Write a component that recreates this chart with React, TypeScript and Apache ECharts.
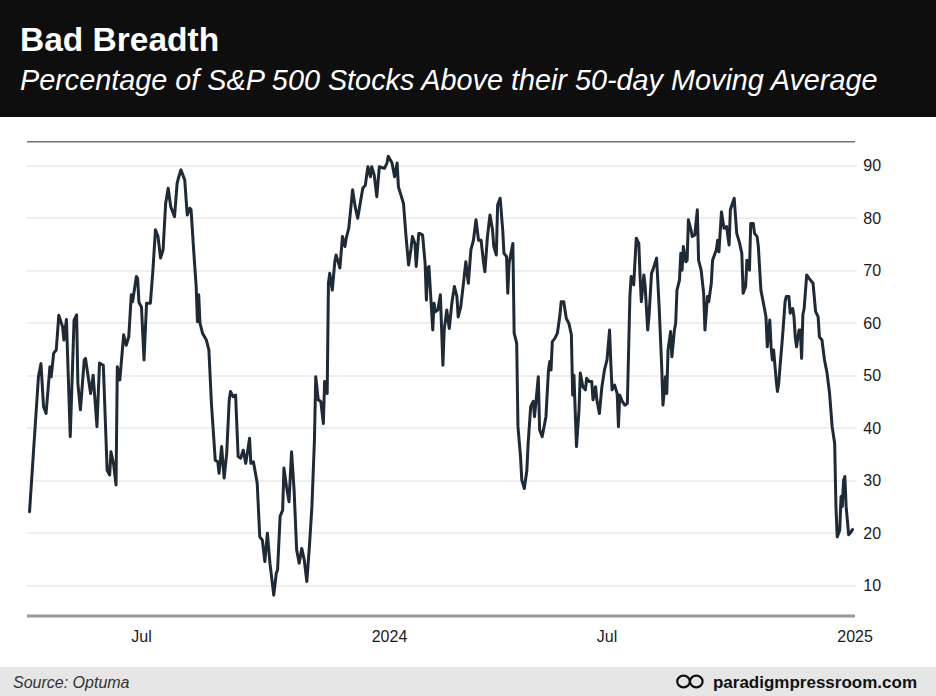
import React, { useEffect, useRef } from 'react';
import * as echarts from 'echarts';

// ---- Data ----
const dates2023 = [
  '03-24','03-31','04-02','04-04','04-06','04-09','04-10','04-12','04-14','04-16','04-19','04-20','04-22','04-25','04-28','04-30',
  '05-01','05-03','05-06','05-07','05-11','05-13','05-16','05-18','05-21','05-24','05-26','05-27','05-29','05-31',
  '06-01','06-03','06-06','06-08','06-10','06-12','06-13','06-16','06-17','06-18','06-20','06-22','06-24','06-27','06-29',
  '07-01','07-03','07-05','07-07','07-09','07-11','07-13','07-16','07-18','07-19','07-21','07-24','07-26','07-28','07-29','07-31',
  '08-02','08-03','08-04','08-05','08-07','08-10','08-12','08-14','08-17','08-19','08-20','08-22','08-24','08-26','08-28','08-29','08-31',
  '09-02','09-04','09-06','09-08','09-10','09-13','09-14','09-16','09-19','09-21','09-23','09-25','09-27','09-29',
  '10-02','10-04','10-05','10-07','10-09','10-10','10-12','10-14','10-16','10-18','10-20','10-22','10-24','10-26','10-28','10-30',
  '11-01','11-03','11-04','11-06','11-08','11-10','11-11','11-13','11-14','11-15','11-17','11-19','11-20','11-23','11-25','11-27','11-28','11-30',
  '12-03','12-05','12-07','12-11','12-13','12-15','12-17','12-18','12-20','12-22','12-24','12-28','12-30','12-31'
];
const values2023 = [
  24.1,49.8,52.3,44.1,42.8,51.7,49.8,54.3,54.9,61.5,59.3,56.8,60.7,38.4,60.6,61.6,
  48.5,43.5,53,53.3,46.6,50.1,40.3,52.4,52,32,31.1,35.5,33.3,29.2,
  51.7,49.2,57.8,55.8,57.4,65.4,64.1,68.9,68.5,64,63.1,53,63.8,63.8,70.1,
  77.8,76.5,72.4,74,82.8,85.7,82.2,80.3,86.6,87.6,89.2,87.3,80.6,81.9,81.6,74,
  67,60.3,65.4,60,58.1,56.8,54.9,44.7,33.9,33.6,31.4,36.5,30.5,35.2,45.4,47,46,
  46.3,34.6,34.3,35.8,33.3,38.1,33.3,33.6,29.5,19.3,18.7,14.6,20,14.3,
  8.2,12.4,13,23.2,24.4,32.4,28.9,26,35.5,28.2,16.8,14.3,17.1,14.9,10.8,17.4,
  25.1,37.8,49.8,45.4,45.1,40.9,48.9,46.6,67.6,69.5,66.3,71.7,73,70.5,76.5,74.6,76.2,78.1,
  85.4,82.2,80,85.7,86.3,89.8,87.9,89.8,88.2,84.1,89.8,89.5,90.5,91.8
];
const dates2024 = [
  '01-03','01-05','01-07','01-08','01-10','01-12','01-14','01-16','01-18','01-19','01-21','01-22','01-24','01-25','01-27','01-29','01-30','01-31',
  '02-01','02-04','02-05','02-06','02-08','02-10','02-12','02-13','02-15','02-17','02-19','02-21','02-23','02-24','02-26','02-28',
  '03-01','03-03','03-05','03-07','03-09','03-11','03-13','03-15','03-16','03-18','03-20','03-22','03-23','03-25','03-26','03-28','03-30','03-31',
  '04-02','04-03','04-04','04-07','04-08','04-10','04-11','04-13','04-14','04-16','04-18','04-19','04-21','04-23','04-24','04-25','04-27','04-28','04-30',
  '05-02','05-03','05-05','05-06','05-07','05-08','05-10','05-12','05-14','05-15','05-17','05-19','05-21','05-23','05-24','05-25','05-27','05-29','05-30',
  '06-01','06-03','06-04','06-06','06-08','06-09','06-11','06-12','06-14','06-16','06-18','06-20','06-22','06-23','06-24','06-26','06-28','06-29','06-30',
  '07-02','07-04','07-06','07-08','07-09','07-11','07-13','07-15','07-16','07-17','07-19','07-20','07-22','07-23','07-25','07-26','07-29','07-31',
  '08-02','08-03','08-05','08-06','08-07','08-09','08-10','08-12','08-13','08-14','08-16','08-17','08-18','08-19','08-21','08-22','08-23','08-25','08-26','08-28','08-30','08-31',
  '09-02','09-04','09-05','09-07','09-08','09-10','09-11','09-14','09-15','09-16','09-18','09-20','09-22','09-24','09-25','09-27','09-28','09-30',
  '10-02','10-04','10-05','10-07','10-08','10-10','10-11','10-13','10-14','10-16','10-17','10-19','10-21','10-23','10-24','10-26','10-27','10-28','10-29','10-31',
  '11-01','11-02','11-03','11-05','11-07','11-08','11-10','11-11','11-13','11-14','11-15','11-16','11-18','11-19','11-20','11-21','11-22','11-24','11-26','11-28','11-29',
  '12-01','12-03','12-04','12-06','12-08','12-10','12-12','12-14','12-16','12-17','12-18','12-20','12-21','12-22','12-23','12-24','12-25','12-27','12-29','12-30'
];
const values2024 = [
  90.5,87.9,90.5,86,84.4,82.8,76.5,71.1,74.3,76.5,75.2,70.8,77.1,77.1,76.8,71.4,64.4,70.5,
  70.8,58.7,63.8,62.2,62.5,65.4,52,58.7,62.5,59,63.8,67,65.1,61.2,63.1,67.3,
  71.7,67.6,74,75.8,79.7,75.8,75.8,71.4,69.8,76.5,80.6,77.8,74.6,73,82.5,83.8,77.8,73.3,
  72.7,65.7,71.4,75.2,58.1,56.2,40.3,34.6,30.1,28.5,32,37.1,44.1,45.1,42.2,44.7,49.8,39.7,38.4,
  40.9,42.2,51.1,52.7,51.1,56.5,57.1,58.1,61.6,64.1,64.1,60.9,60,57.8,46.3,50.1,36.5,43.5,50.5,
  47.9,47.3,49.5,48.9,48.9,45.4,47.9,45.4,42.8,47.9,51.1,53,58.7,52.4,47.3,48.2,46.6,40.3,46.3,
  45.1,44.4,44.7,65.1,68.9,67.3,76.2,75.2,68.9,64.1,69.2,67,58.7,61.2,69.5,70.1,72.4,63.1,
  51.7,44.4,49.8,46.6,54.9,58.4,53.6,58.7,60,66.3,68.2,73.3,70.1,74.6,71.7,72,79.7,77.8,76.5,76.8,81.6,72,
  70.1,65.7,58.7,65.1,64.1,67.6,72,74,75.8,73.6,81.2,78.1,78.4,74.9,81.6,83.1,83.8,77.1,
  75.5,73.3,65.7,67,72,70.1,79,79,77.1,76.5,74.6,66.3,63.8,61.2,55.5,60.6,55.5,53,54.9,49.2,
  47,48.5,51.7,57.4,64.1,65.1,65.1,61.9,62.8,61.2,57.4,55.5,58.7,58.7,53.3,61.6,62.8,69.2,68.5,67.9,67.6,
  62.2,61.2,57.4,56.8,53,50.5,46.6,40.3,37.1,25.1,19.3,20.6,27,25.1,30.1,30.8,25.1,19.7,20.3,20.7
];
const xTickDates = ['2023-07-01', '2024-01-01', '2024-07-01', '2025-01-01'];
const xTickLabels = ['Jul', '2024', 'Jul', '2025'];
const axisStart = '2023-03-22';
const axisEnd = '2025-01-02';
const yMin = 10;
const yMax = 90;
const yStep = 10;

const FONT = '"Liberation Sans", Arial, Helvetica, sans-serif';

const toTs = (s: string) => {
  const [y, m, d] = s.split('-').map(Number);
  return new Date(y, m - 1, d).getTime();
};

export default function App() {
  const ref = useRef<HTMLDivElement>(null);

  useEffect(() => {
    if (!ref.current) return;
    const chart = echarts.init(ref.current, undefined, { renderer: 'svg' });

    const seriesData = [
      ...dates2023.map((d, i) => [toTs('2023-' + d), values2023[i]]),
      ...dates2024.map((d, i) => [toTs('2024-' + d), values2024[i]]),
    ];
    const dayKey = (t: number) => {
      const d = new Date(t);
      return d.getFullYear() * 10000 + (d.getMonth() + 1) * 100 + d.getDate();
    };
    const tickKeys = xTickDates.map(toTs).map(dayKey);

    chart.setOption({
      animation: false,
      backgroundColor: '#ffffff',
      grid: { left: 27, top: 165.7, width: 829.3, height: 420, containLabel: false },
      xAxis: {
        type: 'time',
        min: toTs(axisStart),
        max: toTs(axisEnd),
        splitNumber: 8,
        axisLine: { show: false },
        axisTick: { show: false },
        splitLine: { show: false },
        axisLabel: {
          margin: 43,
          fontSize: 16,
          color: '#1a1a1a',
          fontFamily: FONT,
          showMinLabel: true,
          showMaxLabel: true,
          formatter: (value: number) => {
            const idx = tickKeys.indexOf(dayKey(value));
            if (idx < 0) return '';
            const lab = xTickLabels[idx];
            return /^\d+$/.test(lab) ? '{yr|' + lab + '}' : '{mo|' + lab + '}';
          },
          rich: {
            mo: { fontSize: 16, color: '#1a1a1a', fontFamily: FONT, padding: [0, 28, 0, 0] },
            yr: { fontSize: 16, color: '#1a1a1a', fontFamily: FONT },
          },
        },
      },
      yAxis: {
        type: 'value',
        position: 'right',
        min: yMin,
        max: yMax,
        interval: yStep,
        axisLine: { show: false },
        axisTick: { show: false },
        splitLine: { show: true, lineStyle: { color: '#e8e8e8', width: 1.5 } },
        axisLabel: { margin: 7, fontSize: 16, color: '#1a1a1a', fontFamily: FONT },
      },
      series: [
        {
          type: 'line',
          data: seriesData,
          showSymbol: false,
          symbol: 'none',
          clip: false,
          lineStyle: { color: '#1f2a37', width: 3, join: 'round', cap: 'round' },
          z: 3,
        },
      ],
      graphic: [
        { type: 'rect', z: -10, shape: { x: 0, y: 0, width: 936, height: 117 }, style: { fill: '#0e0e0e' } },
        {
          type: 'text', x: 20, y: 39,
          style: { text: 'Bad Breadth', fill: '#ffffff', fontSize: 33.5, fontWeight: 'bold', fontFamily: FONT, align: 'left', verticalAlign: 'middle' },
        },
        {
          type: 'text', x: 20, y: 80,
          style: { text: 'Percentage of S&P 500 Stocks Above their 50-day Moving Average', fill: '#ffffff', fontSize: 28.8, fontStyle: 'italic', fontFamily: FONT, align: 'left', verticalAlign: 'middle' },
        },
        { type: 'line', shape: { x1: 27, y1: 141.7, x2: 855, y2: 141.7 }, style: { stroke: '#707070', lineWidth: 1.5 } },
        { type: 'line', shape: { x1: 27, y1: 616, x2: 855, y2: 616 }, style: { stroke: '#999999', lineWidth: 3 } },
        { type: 'rect', z: -10, shape: { x: 0, y: 667, width: 936, height: 29 }, style: { fill: '#e6e6e6' } },
        {
          type: 'text', x: 13, y: 682,
          style: { text: 'Source: Optuma', fill: '#333333', fontSize: 16, fontStyle: 'italic', fontFamily: FONT, align: 'left', verticalAlign: 'middle' },
        },
        { type: 'ellipse', shape: { cx: 683.5, cy: 681.5, rx: 6.3, ry: 5.8 }, style: { fill: 'none', stroke: '#111111', lineWidth: 2.2 } },
        { type: 'ellipse', shape: { cx: 696.3, cy: 681.5, rx: 6.3, ry: 5.8 }, style: { fill: 'none', stroke: '#111111', lineWidth: 2.2 } },
        {
          type: 'text', x: 917, y: 682,
          style: { text: 'paradigmpressroom.com', fill: '#111111', fontSize: 17, fontWeight: 'bold', fontFamily: FONT, align: 'right', verticalAlign: 'middle' },
        },
      ],
    });

    return () => chart.dispose();
  }, []);

  return (
    <div
      ref={ref}
      style={{ position: 'absolute', left: 0, top: 0, width: 936, height: 696, background: '#ffffff' }}
    />
  );
}
